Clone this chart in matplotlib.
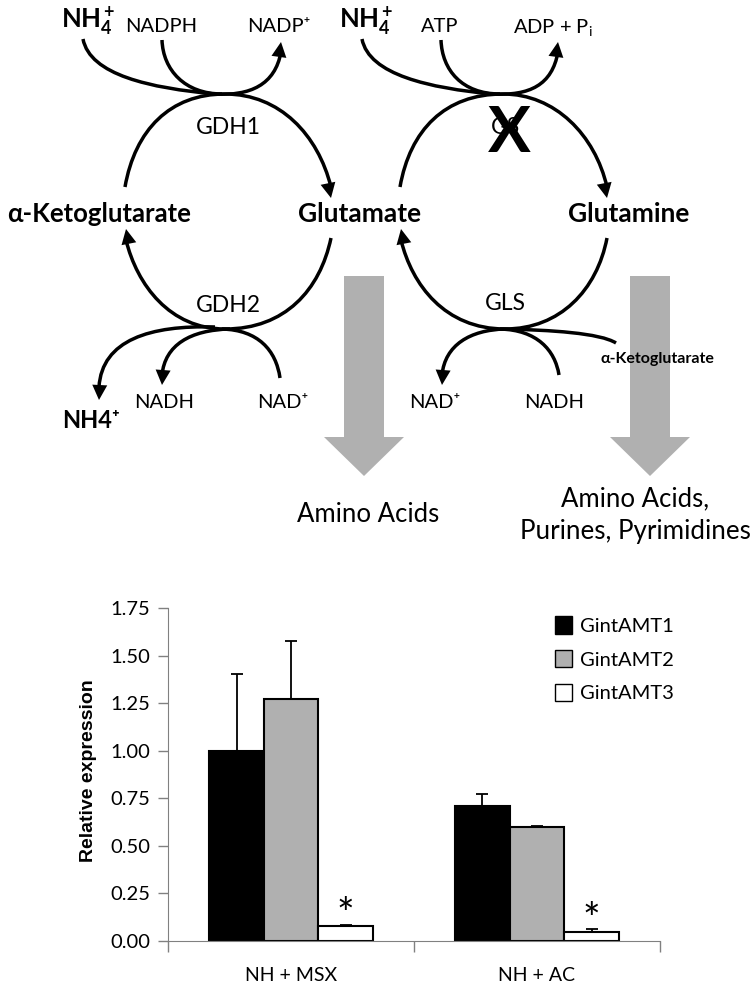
import matplotlib
matplotlib.use('Agg')
import matplotlib.pyplot as plt
import numpy as np
from matplotlib.path import Path
from matplotlib.patches import PathPatch, Polygon, Patch

plt.rcParams['font.family'] = ['Lato', 'DejaVu Sans']
plt.rcParams['mathtext.fontset'] = 'custom'
plt.rcParams['mathtext.rm'] = 'Lato'
plt.rcParams['mathtext.bf'] = 'Lato:bold'
plt.rcParams['mathtext.it'] = 'Lato:italic'

# bar chart data
categories = ['NH + MSX', 'NH + AC']
series_names = ['GintAMT1', 'GintAMT2', 'GintAMT3']
series_colors = ['black', '#b0b0b0', 'white']
amt1 = [1.00, 0.71]
amt2 = [1.27, 0.60]
amt3 = [0.08, 0.045]
amt1_err = [0.405, 0.065]
amt2_err = [0.305, 0.005]
amt3_err = [0.003, 0.02]
y_ticks = [0, 0.25, 0.5, 0.75, 1.0, 1.25, 1.5, 1.75]

# pathway curves in picture pixels, start, 2 controls, end
plain_curves = [
    [(83, 39), (90, 75), (150, 88), (215, 94)],
    [(162, 40), (163, 70), (185, 94), (222, 94)],
    [(362, 39), (369, 75), (430, 88), (492, 94)],
    [(441, 40), (442, 70), (462, 94), (500, 94)],
    [(280, 378), (276, 350), (258, 330), (222, 329)],
    [(559, 375), (555, 350), (537, 330), (500, 329)],
    [(505, 329), (550, 330), (600, 333), (616, 343)],
    [(125, 187), (135, 130), (170, 94), (225, 94)],
    [(400, 187), (410, 130), (445, 94), (503, 94)],
    [(331, 238), (320, 290), (285, 329), (225, 329)],
    [(607, 238), (597, 290), (560, 329), (505, 329)],
]
arrow_curves = [
    [(215, 94), (250, 96), (275, 85), (281, 52)],
    [(492, 94), (530, 96), (552, 85), (558, 52)],
    [(225, 94), (280, 94), (318, 135), (331, 187)],
    [(503, 94), (555, 94), (595, 135), (607, 187)],
    [(225, 329), (170, 329), (137, 285), (126, 240)],
    [(505, 329), (445, 329), (412, 285), (401, 240)],
    [(215, 327), (150, 325), (102, 340), (99, 387)],
    [(230, 329), (190, 330), (165, 345), (162, 375)],
    [(505, 329), (470, 330), (445, 345), (442, 375)],
]
arrow_tips = [(281, 42), (558, 42), (331, 198), (607, 198), (126, 229), (401, 229), (99, 400), (162, 385), (442, 385)]

# grey block arrows x centre
block_centres = [364, 650]

fig = plt.figure(figsize=(7.56, 9.86), dpi=100)

# whole figure axes for the pathway, y down like the picture
bg = fig.add_axes([0, 0, 1, 1])
bg.set_xlim(0, 756)
bg.set_ylim(986, 0)
bg.axis('off')

for c in block_centres:
    bg.add_patch(Polygon([(c - 20, 276), (c + 20, 276), (c + 20, 437), (c + 40, 437),
                          (c, 476), (c - 40, 437), (c - 20, 437)], color='#b0b0b0', lw=0))

codes = [Path.MOVETO, Path.CURVE4, Path.CURVE4, Path.CURVE4]
for pts in plain_curves + arrow_curves:
    bg.add_patch(PathPatch(Path(pts, codes), fc='none', ec='black', lw=2.5, capstyle='butt'))

for pts, tip in zip(arrow_curves, arrow_tips):
    d = np.array(tip, float) - np.array(pts[2], float)
    d = d / np.hypot(*d)
    n = np.array([-d[1], d[0]])
    tip = np.array(tip, float)
    base = tip - d * 15
    bg.add_patch(Polygon([tip, base + n * 7.5, base - n * 7.5], color='black', lw=0))

# labels
def label(x, y, s, size=14.5, weight='normal', **kw):
    bg.text(x, y, s, fontsize=size, fontweight=weight, ha='center', va='center', **kw)

label(88, 21, r'$\mathbf{NH_4^+}$', 18.5)
label(366, 21, r'$\mathbf{NH_4^+}$', 18.5)
label(161, 27, 'NADPH')
label(279, 26, 'NADP⁺')
label(440, 27, 'ATP')
label(553, 27, r'ADP + P$_\mathrm{i}$')
label(228, 127, 'GDH1', 16.5)
label(505, 127, 'GS', 16.5)
label(509, 133, 'X', 46, 'bold')
label(99, 214, 'α-Ketoglutarate', 18.5, 'bold')
label(360, 214, 'Glutamate', 19, 'bold')
label(629, 214, 'Glutamine', 19, 'bold')
label(228, 305, 'GDH2', 16.5)
label(505, 304, 'GLS', 16.5)
label(657, 359, 'α-Ketoglutarate', 11.5, 'bold')
label(164, 402, 'NADH')
label(283, 402, 'NAD⁺')
label(435, 402, 'NAD⁺')
label(554, 402, 'NADH')
label(91, 420, 'NH4⁺', 17, 'bold')
label(368, 514, 'Amino Acids', 18.5)
label(635, 499, 'Amino Acids,', 18.5)
label(635, 532, 'Purines, Pyrimidines', 18.7)

# bar chart
ax = fig.add_axes([168 / 756, (986 - 941) / 986, (660 - 168) / 756, (941 - 608) / 986])
ax.patch.set_alpha(0)
x = np.arange(len(categories)) + 0.5
w = 54.5 / 246
all_vals = [amt1, amt2, amt3]
all_errs = [amt1_err, amt2_err, amt3_err]
for i in range(3):
    ax.bar(x + (i - 1) * w, all_vals[i], w, color=series_colors[i], edgecolor='black', lw=1.5,
           yerr=[[0, 0], all_errs[i]], ecolor='black', capsize=4,
           error_kw={'elinewidth': 1.3, 'capthick': 1.3})

ax.text(x[0] + w, 0.13, '*', fontsize=30, ha='center', va='center')
ax.text(x[1] + w, 0.105, '*', fontsize=30, ha='center', va='center')

ax.set_xlim(0, 2)
ax.set_ylim(0, 1.75)
ax.set_yticks(y_ticks)
ax.set_yticklabels(['%.2f' % t for t in y_ticks], fontsize=14.5)
ax.set_xticks([0, 1, 2])
ax.set_xticklabels([])
ax.tick_params(axis='y', length=7, width=1, color='#808080', pad=6)
ax.tick_params(axis='x', length=8, width=1, color='#808080')
for s in ['top', 'right']:
    ax.spines[s].set_visible(False)
for s in ['left', 'bottom']:
    ax.spines[s].set_color('#808080')
for xc, name in zip(x, categories):
    ax.text(xc, -0.18, name, fontsize=14, ha='center', va='center')
ax.set_ylabel('Relative expression', fontsize=14, fontweight='bold',
              family=['Liberation Sans', 'DejaVu Sans'], labelpad=9, y=0.512)

handles = [Patch(fc=series_colors[i], ec='black', lw=1, label=series_names[i]) for i in range(3)]
ax.legend(handles=handles, loc='upper left', bbox_to_anchor=(0.787, 0.975), frameon=False, fontsize=14.5,
          handlelength=0.85, handleheight=0.95, handletextpad=0.4, labelspacing=0.75, borderpad=0, borderaxespad=0)

fig.savefig('out.png', dpi=100)
